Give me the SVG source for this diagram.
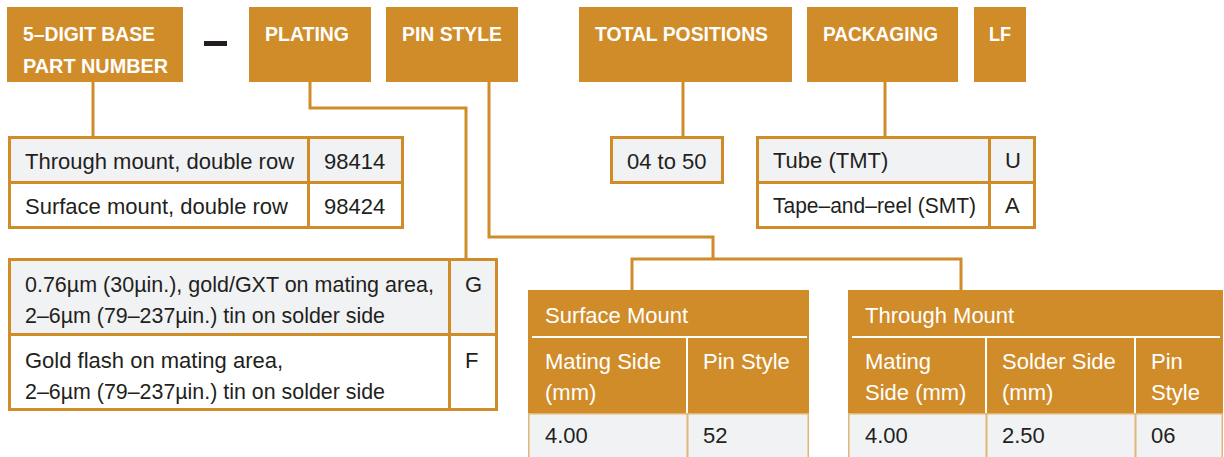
<svg xmlns="http://www.w3.org/2000/svg" width="1224" height="457" viewBox="0 0 1224 457">
<style>
.hdr{fill:#D18C2A}
.ht{font-family:"Liberation Sans",Arial,sans-serif;font-weight:bold;font-size:21px;fill:#ffffff}
.bt{font-family:"Liberation Sans",Arial,sans-serif;font-size:22px;fill:#231F20}
.wt{font-family:"Liberation Sans",Arial,sans-serif;font-size:22px;fill:#ffffff}
.conn{stroke:#D18C2A;stroke-width:3;fill:none}
.g{fill:#F1F2F4}
.w{fill:#ffffff}
.bd{stroke:#D18C2A;stroke-width:3;fill:none}
.sep{stroke:#ffffff;stroke-width:2;fill:none}
.lc{fill:#F1F2F4;stroke:#E2B574;stroke-width:1.5}
</style>
<rect width="1224" height="457" fill="#ffffff"/>

<g id="connectors">
<path class="conn" d="M93 82V137"/>
<path class="conn" d="M310 82V108H466V259"/>
<path class="conn" d="M489 82V237H713V259"/>
<path class="conn" d="M632 290V259H961V290"/>
<path class="conn" d="M683 82V137"/>
<path class="conn" d="M885 82V137"/>
</g>

<g id="hdr-base">
<rect class="hdr" x="7" y="7" width="176" height="75"/>
<text class="ht" x="23" y="41" textLength="132" lengthAdjust="spacingAndGlyphs">5–DIGIT BASE</text>
<text class="ht" x="23" y="73" textLength="145" lengthAdjust="spacingAndGlyphs">PART NUMBER</text>
</g>
<g id="dash">
<rect x="204" y="41" width="23" height="5" fill="#231F20"/>
</g>
<g id="hdr-plating">
<rect class="hdr" x="249" y="7" width="122" height="75"/>
<text class="ht" x="265" y="41" textLength="84" lengthAdjust="spacingAndGlyphs">PLATING</text>
</g>
<g id="hdr-pinstyle">
<rect class="hdr" x="386" y="7" width="132" height="75"/>
<text class="ht" x="402" y="41" textLength="100" lengthAdjust="spacingAndGlyphs">PIN STYLE</text>
</g>
<g id="hdr-total">
<rect class="hdr" x="579" y="7" width="213" height="75"/>
<text class="ht" x="595" y="41" textLength="173" lengthAdjust="spacingAndGlyphs">TOTAL POSITIONS</text>
</g>
<g id="hdr-packaging">
<rect class="hdr" x="807" y="7" width="151" height="75"/>
<text class="ht" x="823" y="41" textLength="115" lengthAdjust="spacingAndGlyphs">PACKAGING</text>
</g>
<g id="hdr-lf">
<rect class="hdr" x="974" y="7" width="52" height="75"/>
<text class="ht" x="989" y="41" textLength="22" lengthAdjust="spacingAndGlyphs">LF</text>
</g>

<g id="part-table">
<rect class="g" x="9.5" y="137.5" width="393" height="45"/>
<rect class="w" x="9.5" y="182.5" width="393" height="45"/>
<rect class="bd" x="9.5" y="137.5" width="393" height="90"/>
<path class="bd" d="M9.5 182.5H402.5M308.5 137.5V227.5"/>
<text class="bt" x="25" y="169">Through mount, double row</text>
<text class="bt" x="324" y="169">98414</text>
<text class="bt" x="25" y="214">Surface mount, double row</text>
<text class="bt" x="324" y="214">98424</text>
</g>

<g id="plating-table">
<rect class="g" x="9.5" y="259.5" width="487" height="75"/>
<rect class="w" x="9.5" y="334.5" width="487" height="75"/>
<rect class="bd" x="9.5" y="259.5" width="487" height="150"/>
<path class="bd" d="M9.5 334.5H496.5M449.5 259.5V409.5"/>
<text class="bt" x="25" y="292" textLength="409" lengthAdjust="spacingAndGlyphs">0.76µm (30µin.), gold/GXT on mating area,</text>
<text class="bt" x="25" y="323" textLength="360" lengthAdjust="spacingAndGlyphs">2–6µm (79–237µin.) tin on solder side</text>
<text class="bt" x="465" y="292">G</text>
<text class="bt" x="25" y="368">Gold flash on mating area,</text>
<text class="bt" x="25" y="399" textLength="360" lengthAdjust="spacingAndGlyphs">2–6µm (79–237µin.) tin on solder side</text>
<text class="bt" x="465" y="368">F</text>
</g>

<g id="positions-box">
<rect class="g" x="611.5" y="137.5" width="111" height="45"/>
<rect class="bd" x="611.5" y="137.5" width="111" height="45"/>
<text class="bt" x="627" y="169">04 to 50</text>
</g>

<g id="packaging-table">
<rect class="g" x="757.5" y="137.5" width="277" height="45"/>
<rect class="w" x="757.5" y="182.5" width="277" height="45"/>
<rect class="bd" x="757.5" y="137.5" width="277" height="90"/>
<path class="bd" d="M757.5 182.5H1034.5M989.5 137.5V227.5"/>
<text class="bt" x="773" y="168">Tube (TMT)</text>
<text class="bt" x="1005" y="168">U</text>
<text class="bt" x="773" y="213" textLength="203" lengthAdjust="spacingAndGlyphs">Tape–and–reel (SMT)</text>
<text class="bt" x="1005" y="213">A</text>
</g>

<g id="surface-mount">
<rect class="hdr" x="528" y="290" width="281" height="123"/>
<path class="sep" d="M532 337H807M687 337V413"/>
<rect class="lc" x="528.75" y="413.75" width="158.5" height="44"/>
<rect class="lc" x="687.75" y="413.75" width="120.5" height="44"/>
<text class="wt" x="545" y="323">Surface Mount</text>
<text class="wt" x="545" y="369">Mating Side</text>
<text class="wt" x="545" y="400">(mm)</text>
<text class="wt" x="703" y="369">Pin Style</text>
<text class="bt" x="545" y="443">4.00</text>
<text class="bt" x="703" y="443">52</text>
</g>

<g id="through-mount">
<rect class="hdr" x="848" y="290" width="375" height="123"/>
<path class="sep" d="M852 337H1220M986 337V413M1135 337V413"/>
<rect class="lc" x="848.75" y="413.75" width="137.5" height="44"/>
<rect class="lc" x="986.75" y="413.75" width="148.5" height="44"/>
<rect class="lc" x="1135.75" y="413.75" width="86.5" height="44"/>
<text class="wt" x="865" y="323">Through Mount</text>
<text class="wt" x="865" y="369">Mating</text>
<text class="wt" x="865" y="400">Side (mm)</text>
<text class="wt" x="1002" y="369">Solder Side</text>
<text class="wt" x="1002" y="400">(mm)</text>
<text class="wt" x="1151" y="369">Pin</text>
<text class="wt" x="1151" y="400">Style</text>
<text class="bt" x="865" y="443">4.00</text>
<text class="bt" x="1002" y="443">2.50</text>
<text class="bt" x="1151" y="443">06</text>
</g>
</svg>
